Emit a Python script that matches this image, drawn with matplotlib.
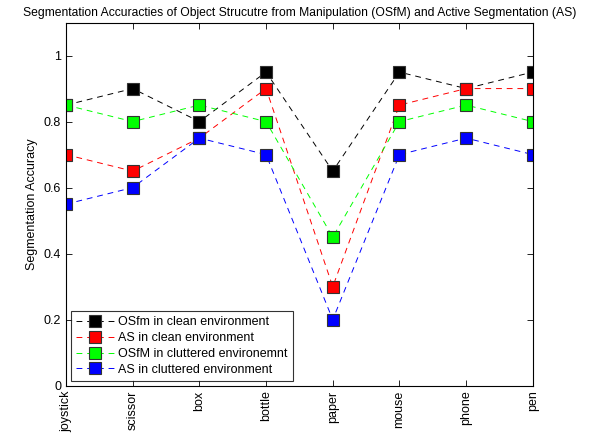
import matplotlib.pyplot as plt

plt.rcParams["font.family"] = ["Liberation Sans", "DejaVu Sans"]

objects = ["joystick", "scissor", "box", "bottle", "paper", "mouse", "phone", "pen"]
osfm_clean = [0.85, 0.9, 0.8, 0.95, 0.65, 0.95, 0.9, 0.95]
as_clean = [0.7, 0.65, 0.75, 0.9, 0.3, 0.85, 0.9, 0.9]
osfm_cluttered = [0.85, 0.8, 0.85, 0.8, 0.45, 0.8, 0.85, 0.8]
as_cluttered = [0.55, 0.6, 0.75, 0.7, 0.2, 0.7, 0.75, 0.7]

series = [
    (osfm_clean, "k", "OSfm in clean environment"),
    (as_clean, "r", "AS in clean environment"),
    (osfm_cluttered, "#00ff00", "OSfM in cluttered environemnt"),
    (as_cluttered, "b", "AS in cluttered environment"),
]

fig = plt.figure(figsize=(6.0, 4.37), dpi=100)
ax = fig.add_axes([0.11, 0.1174, 0.778, 0.831])

x = list(range(1, len(objects) + 1))
for values, color, label in series:
    ax.plot(x, values, linestyle=(0, (6, 5)), color=color, linewidth=0.7,
            marker="s", markersize=8, markerfacecolor=color,
            markeredgecolor="#333333", markeredgewidth=0.8, label=label)

ax.set_xlim(1, len(objects))
ax.set_ylim(0, 1.1)
ax.set_xticks(x)
ax.set_xticklabels(objects, rotation=90, fontsize=9)
ax.set_yticks([0, 0.2, 0.4, 0.6, 0.8, 1])
ax.set_yticklabels(["0", "0.2", "0.4", "0.6", "0.8", "1"], fontsize=9)
ax.tick_params(direction="in", top=True, right=True, length=4, width=0.6)
for spine in ax.spines.values():
    spine.set_linewidth(0.8)

ax.set_ylabel("Segmentation Accuracy", fontsize=9)
ax.set_title("Segmentation Accuracties of Object Strucutre from Manipulation (OSfM) and Active Segmentation (AS)",
             fontsize=8.7, pad=5)

leg = ax.legend(loc="lower left", fontsize=9, frameon=True, fancybox=False,
                handlelength=3.0, borderaxespad=0.4, labelspacing=0.3,
                handletextpad=0.4)
leg.get_frame().set_edgecolor("k")
leg.get_frame().set_linewidth(0.8)

fig.savefig("out.png", dpi=100)
